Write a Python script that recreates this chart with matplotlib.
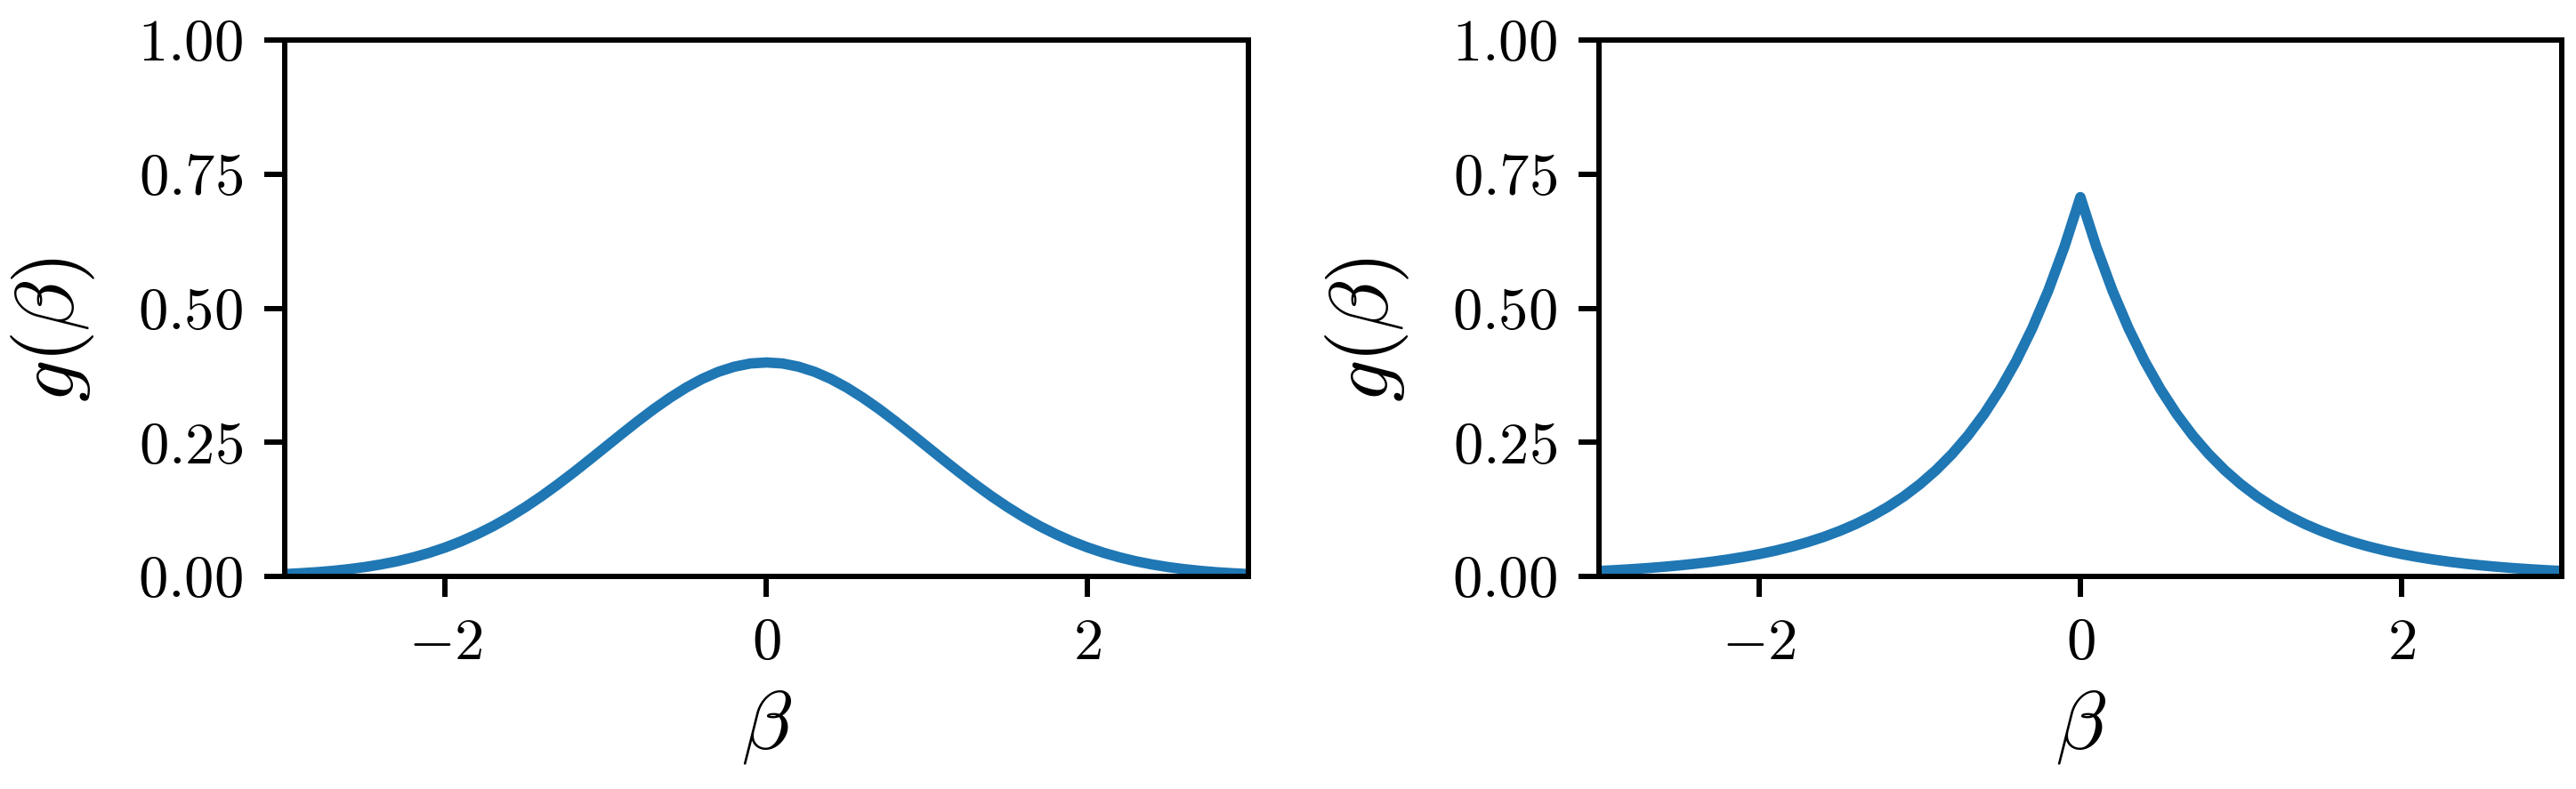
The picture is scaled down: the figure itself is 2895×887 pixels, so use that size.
import matplotlib
matplotlib.use("Agg")
import matplotlib.pyplot as plt
from matplotlib.ticker import FormatStrFormatter

# values
beta = [-3.0, -2.9, -2.8, -2.7, -2.6, -2.5, -2.4, -2.3, -2.2, -2.1,
        -2.0, -1.9, -1.8, -1.7, -1.6, -1.5, -1.4, -1.3, -1.2, -1.1,
        -1.0, -0.9, -0.8, -0.7, -0.6, -0.5, -0.4, -0.3, -0.2, -0.1,
        0.0, 0.1, 0.2, 0.3, 0.4, 0.5, 0.6, 0.7, 0.8, 0.9,
        1.0, 1.1, 1.2, 1.3, 1.4, 1.5, 1.6, 1.7, 1.8, 1.9,
        2.0, 2.1, 2.2, 2.3, 2.4, 2.5, 2.6, 2.7, 2.8, 2.9, 3.0]

g_left = [0.0044, 0.0060, 0.0079, 0.0104, 0.0136, 0.0175, 0.0224, 0.0283, 0.0355, 0.0440,
          0.0540, 0.0656, 0.0790, 0.0940, 0.1109, 0.1295, 0.1497, 0.1714, 0.1942, 0.2179,
          0.2420, 0.2661, 0.2897, 0.3123, 0.3332, 0.3521, 0.3683, 0.3814, 0.3910, 0.3970,
          0.3989,
          0.3970, 0.3910, 0.3814, 0.3683, 0.3521, 0.3332, 0.3123, 0.2897, 0.2661, 0.2420,
          0.2179, 0.1942, 0.1714, 0.1497, 0.1295, 0.1109, 0.0940, 0.0790, 0.0656, 0.0540,
          0.0440, 0.0355, 0.0283, 0.0224, 0.0175, 0.0136, 0.0104, 0.0079, 0.0060, 0.0044]

g_right = [0.0102, 0.0117, 0.0135, 0.0155, 0.0179, 0.0206, 0.0237, 0.0273, 0.0315, 0.0363,
           0.0418, 0.0481, 0.0555, 0.0639, 0.0736, 0.0848, 0.0976, 0.1125, 0.1296, 0.1492,
           0.1719, 0.1980, 0.2281, 0.2628, 0.3027, 0.3487, 0.4016, 0.4626, 0.5329, 0.6139,
           0.7071,
           0.6139, 0.5329, 0.4626, 0.4016, 0.3487, 0.3027, 0.2628, 0.2281, 0.1980, 0.1719,
           0.1492, 0.1296, 0.1125, 0.0976, 0.0848, 0.0736, 0.0639, 0.0555, 0.0481, 0.0418,
           0.0363, 0.0315, 0.0273, 0.0237, 0.0206, 0.0179, 0.0155, 0.0135, 0.0117, 0.0102]

x_ticks = [-2, 0, 2]
y_ticks = [0.0, 0.25, 0.5, 0.75, 1.0]

plt.rcParams["font.family"] = "serif"
plt.rcParams["font.serif"] = ["cmr10"]
plt.rcParams["mathtext.fontset"] = "cm"
plt.rcParams["axes.formatter.use_mathtext"] = True
plt.rcParams["font.size"] = 10
plt.rcParams["axes.linewidth"] = 0.9
plt.rcParams["xtick.major.width"] = 0.9
plt.rcParams["ytick.major.width"] = 0.9

dpi = 480
fig = plt.figure(figsize=(2895 / dpi, 887 / dpi), dpi=dpi)
ax1 = fig.add_axes([0.1105, 0.2694, 0.3741, 0.6799])
ax2 = fig.add_axes([0.6207, 0.2694, 0.3738, 0.6799])

for ax, g in [(ax1, g_left), (ax2, g_right)]:
    ax.plot(beta, g, color="#1f77b4", lw=1.75)
    ax.set_xlim(-3, 3)
    ax.set_ylim(0, 1)
    ax.set_xticks(x_ticks)
    ax.set_yticks(y_ticks)
    ax.yaxis.set_major_formatter(FormatStrFormatter(r"$%.2f$"))
    ax.set_xlabel(r"$\beta$", fontsize=14, labelpad=3)
    ax.set_ylabel(r"$g(\beta)$", fontsize=14, labelpad=7)
    ax.yaxis.label.set_y(0.46)

fig.savefig("out.png", dpi=dpi)
